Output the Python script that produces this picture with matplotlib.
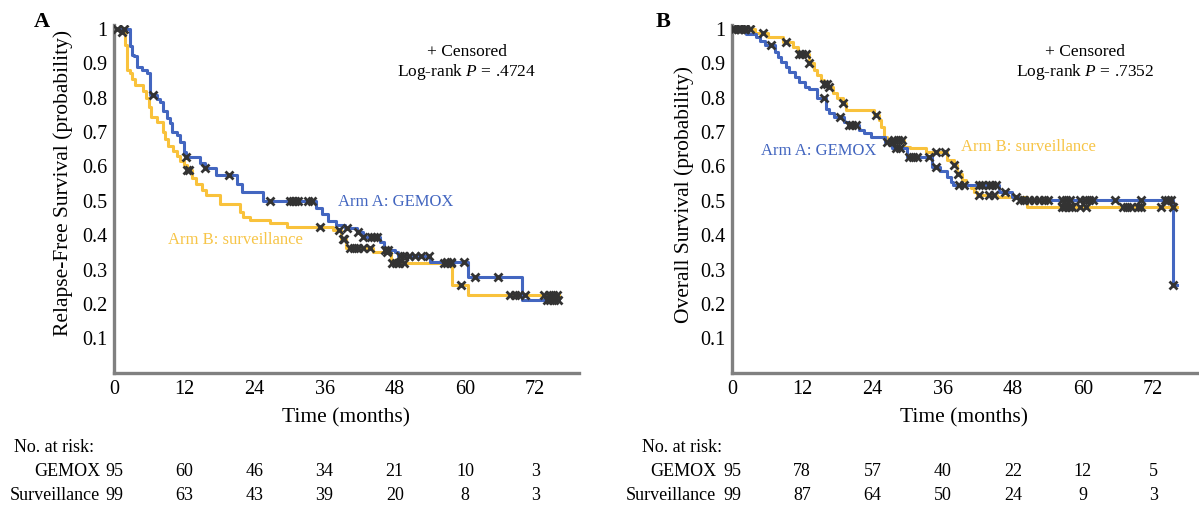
import numpy as np
import matplotlib
matplotlib.use("Agg")
import matplotlib.pyplot as plt
from matplotlib.transforms import blended_transform_factory

plt.rcParams['font.family'] = ['Liberation Serif', 'DejaVu Serif']
plt.rcParams['mathtext.fontset'] = 'custom'
plt.rcParams['mathtext.rm'] = 'Liberation Serif'
plt.rcParams['mathtext.it'] = 'Liberation Serif:italic'

BLUE = '#4366C0'
YELLOW = '#F9C23C'
YELLOW_TXT = '#F7C548'
CENS = '#333333'
SPINE = '#808080'

# ---- Panel A: relapse-free survival ----
a_gem_t = [0, 2.7, 3.0, 3.5, 4.0, 4.8, 5.6, 6.2, 7.3, 7.9, 8.4, 9.0, 9.5, 9.9, 10.7, 11.3,
           11.9, 12.3, 14.7, 15.5, 17.5, 21.0, 21.9, 25.4, 34.6, 35.5, 36.6, 38.0, 39.5,
           41.5, 42.5, 45.5, 46.2, 48.0, 48.6, 54.0, 60.6, 69.7]
a_gem_s = [1.0, 0.95, 0.925, 0.92, 0.89, 0.88, 0.87, 0.807, 0.797, 0.788, 0.76, 0.74, 0.725,
           0.70, 0.69, 0.67, 0.643, 0.628, 0.609, 0.594, 0.575, 0.55, 0.525, 0.50, 0.48, 0.46,
           0.44, 0.43, 0.42, 0.41, 0.395, 0.38, 0.357, 0.35, 0.34, 0.322, 0.279, 0.21]
a_gem_cens = [0.5, 1.7, 6.6, 12.3, 15.6, 19.7, 26.7, 30.1, 30.6, 31.0, 31.5, 33.2, 33.8, 39.9,
              41.8, 42.6, 44.0, 44.5, 44.9, 46.3, 46.9, 48.9, 49.5, 50.5, 51.5, 52.5, 53.8,
              57.0, 57.6, 59.9, 61.7, 65.7, 74.0, 74.6, 75.2, 75.9]
a_sur_t = [0, 1.3, 1.9, 2.2, 2.7, 3.0, 3.6, 5.0, 5.4, 5.9, 6.4, 7.3, 8.4, 8.7, 9.3, 10.1, 10.7,
           11.3, 11.9, 12.4, 13.3, 14.1, 15.0, 15.8, 18.1, 21.5, 22.1, 23.2, 26.7, 29.5, 37.4,
           38.8, 39.6, 44.3, 47.3, 57.8, 60.6]
a_sur_s = [1.0, 0.99, 0.953, 0.88, 0.87, 0.855, 0.836, 0.82, 0.80, 0.772, 0.744, 0.73, 0.70,
           0.68, 0.66, 0.645, 0.63, 0.615, 0.605, 0.59, 0.565, 0.55, 0.53, 0.517, 0.49, 0.467,
           0.454, 0.444, 0.435, 0.424, 0.415, 0.39, 0.362, 0.35, 0.318, 0.255, 0.226]
a_sur_cens = [1.4, 12.4, 12.8, 35.2, 38.5, 39.1, 39.4, 40.3, 41.0, 41.8, 42.6, 43.7, 46.6, 47.5,
              48.2, 48.8, 49.5, 56.4, 57.0, 57.6, 59.4, 67.7, 68.5, 69.3, 70.3, 73.5, 74.3,
              75.0, 75.8]

# ---- Panel B: overall survival ----
b_gem_t = [0, 2.4, 4.1, 4.8, 5.6, 7.3, 7.8, 8.4, 9.2, 9.8, 10.7, 11.5, 12.4, 13.2, 14.6, 16.1,
           16.6, 17.5, 19.2, 19.8, 21.7, 22.6, 23.7, 26.2, 27.4, 30.0, 34.2, 35.6, 36.8, 37.4,
           37.7, 45.6, 47.9, 49.0, 75.4]
b_gem_s = [1.0, 0.985, 0.975, 0.965, 0.952, 0.933, 0.919, 0.904, 0.89, 0.875, 0.86, 0.846,
           0.831, 0.826, 0.798, 0.768, 0.754, 0.744, 0.73, 0.72, 0.706, 0.696, 0.686, 0.67,
           0.652, 0.628, 0.599, 0.585, 0.57, 0.555, 0.545, 0.526, 0.512, 0.502, 0.255]
b_gem_cens = [0.4, 1.0, 1.6, 2.2, 6.7, 15.7, 18.5, 20.0, 20.6, 21.2, 26.5, 27.3, 28.0, 28.8,
              30.2, 31.0, 31.7, 33.6, 34.8, 38.8, 39.7, 42.2, 42.8, 43.9, 44.5, 45.1, 46.7,
              48.5, 49.3, 50.0, 50.8, 51.6, 52.5, 53.3, 54.1, 56.4, 57.1, 57.8, 59.5, 60.3,
              61.0, 61.8, 65.5, 70.0, 74.0, 74.6, 75.1, 75.4]
b_sur_t = [0, 4.0, 6.1, 8.8, 10.4, 11.2, 13.2, 14.1, 14.6, 15.2, 15.8, 16.4, 17.2, 18.0, 18.9,
           19.5, 24.3, 25.1, 25.5, 26.0, 26.5, 29.4, 30.5, 33.1, 36.8, 37.9, 38.5, 39.4, 40.0,
           40.8, 41.3, 41.9, 45.3, 50.4]
b_sur_s = [1.0, 0.987, 0.975, 0.962, 0.948, 0.928, 0.899, 0.88, 0.865, 0.851, 0.84, 0.83,
           0.812, 0.798, 0.785, 0.764, 0.749, 0.735, 0.715, 0.686, 0.676, 0.657, 0.652, 0.642,
           0.618, 0.604, 0.579, 0.56, 0.546, 0.536, 0.526, 0.516, 0.51, 0.481]
b_sur_cens = [0.4, 1.0, 1.6, 2.2, 3.0, 5.3, 9.2, 11.5, 12.0, 12.6, 13.2, 15.8, 16.2, 16.6, 18.9,
              24.6, 27.7, 28.4, 29.1, 34.8, 36.5, 38.0, 38.7, 42.2, 43.9, 44.8, 56.4, 57.0,
              57.6, 58.1, 59.5, 60.6, 66.9, 67.6, 68.3, 69.4, 70.0, 73.4, 75.4]

end_time = 76.0
ticks_x = [0, 12, 24, 36, 48, 60, 72]
ticks_y = [0.1, 0.2, 0.3, 0.4, 0.5, 0.6, 0.7, 0.8, 0.9, 1.0]
ytick_labels = ['0.1', '0.2', '0.3', '0.4', '0.5', '0.6', '0.7', '0.8', '0.9', '1']

a_risk_gem = [95, 60, 46, 34, 21, 10, 3]
a_risk_sur = [99, 63, 43, 39, 20, 8, 3]
b_risk_gem = [95, 78, 57, 40, 22, 12, 5]
b_risk_sur = [99, 87, 64, 50, 24, 9, 3]


def km(ax, t, s, cens, color):
    tt = list(t) + [end_time]
    ss = list(s) + [s[-1]]
    ax.step(tt, ss, where='post', color=color, lw=2.2, zorder=2)
    idx = np.searchsorted(t, cens, side='right') - 1
    cy = np.array(s)[idx]
    ax.plot(cens, cy, ls='none', marker='x', ms=5.5, mew=2.0, color=CENS, zorder=3)


fig = plt.figure(figsize=(11.99, 5.12), dpi=100)
W, H = 1199.0, 512.0

panels = [
    dict(left=114, letter='A', letter_x=42, ylabel='Relapse-Free Survival (probability)',
         ylab_xy=(-0.088, 0.546), pval='.4724',
         gem=(a_gem_t, a_gem_s, a_gem_cens), sur=(a_sur_t, a_sur_s, a_sur_cens),
         arm_a=(38.3, 0.496), arm_b=(9.2, 0.385),
         risk=(a_risk_gem, a_risk_sur), lab_right=100, noatrisk_x=14),
    dict(left=732, letter='B', letter_x=663, ylabel='Overall Survival (probability)',
         ylab_xy=(-0.082, 0.514), pval='.7352',
         gem=(b_gem_t, b_gem_s, b_gem_cens), sur=(b_sur_t, b_sur_s, b_sur_cens),
         arm_a=(4.9, 0.645), arm_b=(39.1, 0.656),
         risk=(b_risk_gem, b_risk_sur), lab_right=716, noatrisk_x=642),
]

for p in panels:
    ax = fig.add_axes([p['left'] / W, 1 - 372.7 / H, 465 / W, 347.4 / H])
    ax.set_xlim(0, 79.5)
    ax.set_ylim(0, 1.01)
    for side in ['top', 'right']:
        ax.spines[side].set_visible(False)
    for side in ['left', 'bottom']:
        ax.spines[side].set_color(SPINE)
        ax.spines[side].set_linewidth(2.4)
    ax.set_xticks(ticks_x)
    ax.set_yticks(ticks_y)
    ax.set_yticklabels(ytick_labels)
    ax.tick_params(length=0, labelsize=14.5, pad=5)

    km(ax, *p['sur'], YELLOW)
    km(ax, *p['gem'], BLUE)

    ax.set_ylabel(p['ylabel'], fontsize=15.5)
    ax.yaxis.set_label_coords(*p['ylab_xy'])

    ax.text(60.3, 0.932, '+ Censored', ha='center', va='center', fontsize=12.5)
    ax.text(60.3, 0.874, 'Log-rank $P$ = ' + p['pval'], ha='center', va='center', fontsize=12.5)
    ax.text(p['arm_a'][0], p['arm_a'][1], 'Arm A: GEMOX', color=BLUE, ha='left', va='center',
            fontsize=12)
    ax.text(p['arm_b'][0], p['arm_b'][1], 'Arm B: surveillance', color=YELLOW_TXT, ha='left',
            va='center', fontsize=12)

    fig.text(p['letter_x'] / W, 1 - 22 / H, p['letter'], fontsize=16, fontweight='bold',
             ha='center', va='center')

    # x label and number-at-risk table
    tr = blended_transform_factory(ax.transData, fig.transFigure)
    ax.text(79.5 / 2, 1 - 418 / H, 'Time (months)', transform=tr, ha='center', va='center',
            fontsize=15.5)
    fig.text(p['noatrisk_x'] / W, 1 - 448 / H, 'No. at risk:', ha='left', va='center',
             fontsize=13)
    rows = [('GEMOX', p['risk'][0], 472), ('Surveillance', p['risk'][1], 495)]
    for name, vals, ypx in rows:
        fig.text(p['lab_right'] / W, 1 - ypx / H, name, ha='right', va='center', fontsize=13)
        for x, v in zip(ticks_x, vals):
            ax.text(x, 1 - ypx / H, str(v), transform=tr, ha='center', va='center',
                    fontsize=13)

fig.savefig('out.png', dpi=100)
